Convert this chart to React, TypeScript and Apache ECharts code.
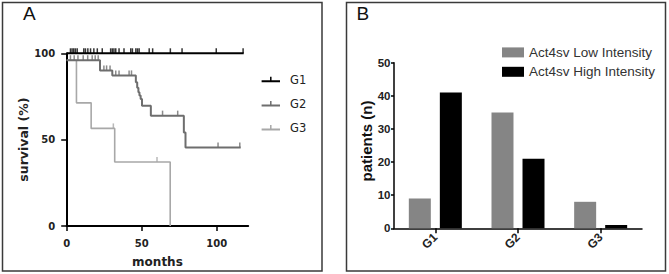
import React, { useEffect, useRef } from "react";
import * as echarts from "echarts";

// ---------- Panel A: Kaplan-Meier survival ----------
const kmGroups = ["G1", "G2", "G3"];
const kmColors = ["#000000", "#6e6e6e", "#a8a8a8"];

const g1Times = [0, 118];
const g1Surv = [100, 100];
const g1Censored = [2.5, 3.6, 4.7, 5.8, 7, 11.4, 12.5, 14.1, 15.9, 18.1, 20.4, 23.7, 29.3, 30.4, 31.5, 32.7, 34.9, 38.2, 42.7, 43.8, 46.1, 47.2, 48.3, 55, 57.3, 69.1, 76.9, 99.7, 117.6];

const g2Times = [0, 22.2, 30.4, 46.1, 47.0, 47.8, 48.5, 49.3, 50.2, 56.1, 78.1, 79.2, 116];
const g2Surv = [96, 90.1, 87.2, 83.3, 80, 77.5, 75.5, 73.6, 69.7, 63.9, 54.2, 45.4, 45.4];
const g2Censored = [2.5, 5, 7.5, 11, 14, 17, 19, 21, 24.8, 26.6, 28.9, 32.7, 34.9, 41.6, 43.2, 63.9, 74, 100.9, 115.4];

const g3Times = [0, 6.5, 16.3, 32, 69];
const g3Surv = [96, 71.3, 56.5, 37.1, 0];
const g3Censored = [31.1, 60.2];

const monthTicks = [0, 50, 100];

// ---------- Panel B: patients by group ----------
const barCategories = ["G1", "G2", "G3"];
const barSeriesNames = ["Act4sv Low Intensity", "Act4sv High Intensity"];
const lowIntensity = [9, 35, 8];
const highIntensity = [41, 21, 1];
const barColors = ["#858585", "#000000"];

function survAt(times: number[], surv: number[], t: number): number {
  let v = surv[0];
  for (let i = 0; i < times.length; i++) {
    if (times[i] <= t) v = surv[i];
  }
  return v;
}

const kmData = [
  { times: g1Times, surv: g1Surv, censored: g1Censored },
  { times: g2Times, surv: g2Surv, censored: g2Censored },
  { times: g3Times, surv: g3Surv, censored: g3Censored },
];

const fontA = "DejaVu Sans, sans-serif";
const fontB = "Liberation Sans, Arial, sans-serif";
const censorPath = "path://M0,0H2V10H0Z";
const legendIconA = "path://M0,3.5H18.4V5.5H0ZM8.45,0H9.95V3.5H8.45Z";

export default function App() {
  const ref = useRef<HTMLDivElement>(null);

  useEffect(() => {
    if (!ref.current) return;
    const chart = echarts.init(ref.current, undefined, { renderer: "svg" });

    const kmLineSeries: any[] = [];
    const kmCensorSeries: any[] = [];
    [2, 1, 0].forEach((gi) => {
      const d = kmData[gi];
      kmLineSeries.push({
        name: kmGroups[gi],
        type: "line",
        xAxisIndex: 0,
        yAxisIndex: 0,
        step: "end",
        symbol: "none",
        clip: false,
        color: kmColors[gi],
        lineStyle: { color: kmColors[gi], width: gi === 2 ? 1.6 : 2 },
        data: d.times.map((t, i) => [t, d.surv[i]]),
        z: 3 + (2 - gi),
      });
      kmCensorSeries.push({
        name: kmGroups[gi] + " censored",
        type: "scatter",
        xAxisIndex: 0,
        yAxisIndex: 0,
        clip: false,
        symbol: censorPath,
        symbolSize: [1.5, 5],
        symbolOffset: [0, -2.5],
        itemStyle: { color: kmColors[gi] },
        data: d.censored.map((t) => [t, survAt(d.times, d.surv, t)]),
        z: 6 + (2 - gi),
      });
    });

    const option: any = {
      animation: false,
      backgroundColor: "#ffffff",
      graphic: [
        {
          type: "rect",
          shape: { x: 2.5, y: 2.5, width: 319.5, height: 268.5 },
          style: { fill: "none", stroke: "#3a3a3a", lineWidth: 1.5 },
        },
        {
          type: "rect",
          shape: { x: 346.5, y: 2.5, width: 319, height: 268.5 },
          style: { fill: "none", stroke: "#3a3a3a", lineWidth: 1.5 },
        },
        {
          type: "text",
          x: 23,
          y: 13.5,
          style: { text: "A", font: "19px " + fontB, fill: "#111", textVerticalAlign: "middle" },
        },
        {
          type: "text",
          x: 356.5,
          y: 13.5,
          style: { text: "B", font: "19px " + fontB, fill: "#111", textVerticalAlign: "middle" },
        },
      ],
      legend: [
        {
          orient: "vertical",
          left: 261.6,
          top: 70.8,
          padding: 0,
          itemGap: 6.6,
          itemWidth: 18.4,
          itemHeight: 5.5,
          selectedMode: false,
          textStyle: { fontFamily: fontA, fontSize: 11.5, color: "#222", lineHeight: 14, padding: [3.5, 0, 0, 5] },
          data: kmGroups.map((g, i) => ({
            name: g,
            icon: legendIconA,
            itemStyle: { color: kmColors[i], borderWidth: 0 },
          })),
        },
        {
          orient: "vertical",
          left: 502,
          top: 45.4,
          padding: 0,
          itemGap: 5.4,
          itemWidth: 22,
          itemHeight: 10,
          selectedMode: false,
          textStyle: { fontFamily: fontB, fontSize: 13.5, color: "#333", lineHeight: 14 },
          data: barSeriesNames.map((n, i) => ({
            name: n,
            icon: "rect",
            itemStyle: { color: barColors[i], borderWidth: 0 },
          })),
        },
      ],
      grid: [
        { left: 66.7, top: 53.3, width: 181.5, height: 172.7, containLabel: false },
        { left: 394, top: 62.7, width: 248, height: 165.6, containLabel: false },
      ],
      xAxis: [
        {
          type: "value",
          gridIndex: 0,
          min: 0,
          max: 121,
          interval: 50,
          name: "months",
          nameLocation: "middle",
          nameGap: 30,
          nameTextStyle: { fontFamily: fontA, fontSize: 12, fontWeight: "bold", color: "#222" },
          axisLine: { show: true, onZero: false, lineStyle: { color: "#000", width: 2 } },
          axisTick: { show: true, length: 5, lineStyle: { color: "#000", width: 1.5 }, customValues: monthTicks },
          axisLabel: { margin: 12, fontFamily: fontA, fontSize: 10, fontWeight: "bold", color: "#222", customValues: monthTicks },
          splitLine: { show: false },
        },
        {
          type: "category",
          gridIndex: 1,
          data: barCategories,
          boundaryGap: true,
          axisLine: { show: true, lineStyle: { color: "#000", width: 1.5 } },
          axisTick: { show: true, alignWithLabel: true, length: 5, lineStyle: { color: "#000", width: 1.5 } },
          axisLabel: { rotate: 45, margin: 7, fontFamily: fontB, fontSize: 12, fontWeight: "bold", color: "#222" },
          splitLine: { show: false },
        },
      ],
      yAxis: [
        {
          type: "value",
          gridIndex: 0,
          min: 0,
          max: 100,
          interval: 50,
          name: "survival (%)",
          nameLocation: "middle",
          nameGap: 35,
          nameTextStyle: { fontFamily: fontA, fontSize: 12.5, fontWeight: "bold", color: "#222" },
          axisLine: { show: true, onZero: false, lineStyle: { color: "#000", width: 2 } },
          axisTick: { show: true, length: 5.5, lineStyle: { color: "#000", width: 1.5 } },
          axisLabel: { margin: 11.5, fontFamily: fontA, fontSize: 10, fontWeight: "bold", color: "#222" },
          splitLine: { show: false },
        },
        {
          type: "value",
          gridIndex: 1,
          min: 0,
          max: 50,
          interval: 10,
          name: "patients (n)",
          nameLocation: "middle",
          nameGap: 19,
          nameTextStyle: { fontFamily: fontB, fontSize: 15, fontWeight: "bold", color: "#111", padding: [0, 0, 0, 9] },
          axisLine: { show: true, onZero: false, lineStyle: { color: "#000", width: 1.5 } },
          axisTick: { show: true, length: 3, lineStyle: { color: "#000", width: 1.5 } },
          axisLabel: { margin: 3.5, fontFamily: fontB, fontSize: 11.5, fontWeight: "bold", color: "#222" },
          splitLine: { show: false },
        },
      ],
      series: [
        ...kmLineSeries,
        ...kmCensorSeries,
        {
          name: barSeriesNames[0],
          type: "bar",
          xAxisIndex: 1,
          yAxisIndex: 1,
          barWidth: 22,
          barGap: "41%",
          itemStyle: { color: barColors[0] },
          data: lowIntensity,
        },
        {
          name: barSeriesNames[1],
          type: "bar",
          xAxisIndex: 1,
          yAxisIndex: 1,
          barWidth: 22,
          barGap: "41%",
          itemStyle: { color: barColors[1] },
          data: highIntensity,
        },
      ],
    };

    chart.setOption(option);
    return () => chart.dispose();
  }, []);

  return (
    <div
      ref={ref}
      style={{ position: "absolute", left: 0, top: 0, width: 669, height: 274, background: "#fff" }}
    />
  );
}
